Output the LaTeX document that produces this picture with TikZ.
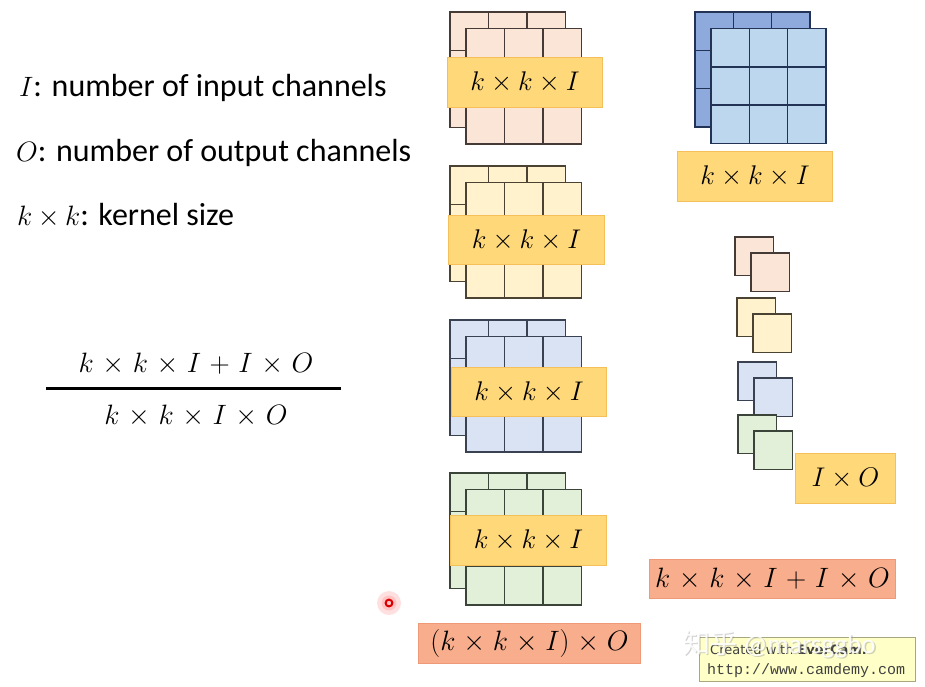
\RequirePackage{fix-cm}
\documentclass[tikz,border=0pt]{standalone}
\usepackage{fontspec}
\setmainfont{Carlito}
\newfontfamily\cjkfont{Noto Sans CJK SC}
\newfontfamily\dvs{DejaVu Sans}
\newfontfamily\lmono{Liberation Mono}
\definecolor{pinkF}{HTML}{FBE5D6}
\definecolor{yellF}{HTML}{FFF2CC}
\definecolor{blueF}{HTML}{DAE3F3}
\definecolor{greenF}{HTML}{E2F0D9}
\definecolor{pinkD}{HTML}{463A36}
\definecolor{yellD}{HTML}{4A4232}
\definecolor{blueD}{HTML}{3A4150}
\definecolor{greenD}{HTML}{3A4438}
\definecolor{gridD}{HTML}{3C3C3C}
\definecolor{kbBack}{HTML}{8EA9DB}
\definecolor{kbFront}{HTML}{BDD7EE}
\definecolor{kbD}{HTML}{223355}
\definecolor{goldF}{HTML}{FFD87A}
\definecolor{goldD}{HTML}{F5C05A}
\definecolor{salF}{HTML}{F8AD8C}
\definecolor{salD}{HTML}{EE9A78}
\definecolor{camF}{HTML}{FFFFC8}
\definecolor{camD}{HTML}{A8A880}
\newcommand{\kgrid}[5]{% x y w fill draw
  \draw[draw=#5, fill=#4, line width=1.4] (#1,#2) rectangle ++(#3,#3);
  \foreach \i in {1,2}{
    \draw[draw=#5, line width=1.4] (#1+\i*#3/3,#2) -- ++(0,#3);
    \draw[draw=#5, line width=1.4] (#1,#2+\i*#3/3) -- ++(#3,0);
  }}
\newcommand{\kstack}[4]{% x y fill draw
  \kgrid{#1}{#2}{115.5}{#3}{#4}
  \kgrid{#1+16}{#2+16.5}{115.5}{#3}{#4}}
\newcommand{\sq}[4]{% x y fill draw
  \draw[draw=#4, fill=#3, line width=1.3] (#1,#2) rectangle ++(38.5,38.5);
  \draw[draw=#4, fill=#3, line width=1.3] (#1+16,#2+16) rectangle ++(38.5,38.5);}
\newcommand{\mm}[2]{$\medmuskip=#1mu\relax #2$}
\tikzset{
  goldbox/.style={draw=goldD, fill=goldF, line width=1, inner sep=0pt},
  salbox/.style={draw=salD, fill=salF, line width=1, inner sep=0pt},
  legend/.style={anchor=base west, inner sep=0pt, font=\fontsize{32}{36}\selectfont},
  mathlbl/.style={inner sep=0pt, font=\fontsize{27}{32}\selectfont},
  mathbig/.style={inner sep=0pt, font=\fontsize{28}{33}\selectfont}
}
\begin{document}
\begin{tikzpicture}[x=1pt,y=-1pt]
\useasboundingbox[fill=white] (0,0) rectangle (925,686);
% legend
\node[legend] (l1) at (19,96) {{\fontsize{28}{30}\selectfont$I$}: number of input channels};
\node[legend] (l2) at (16,161) {{\fontsize{28}{30}\selectfont$O$}: number of output channels};
\node[legend] (l3) at (17,225) {{\fontsize{28}{30}\selectfont\mm{3.5}{k\times k}}: kernel size};
% fraction
\node[mathbig, anchor=base] (num) at (196,372) {\mm{5.5}{k\times k\times I+I\times O}};
\draw[line width=3] (46,388) -- (341,388);
\node[mathbig, anchor=base] (den) at (196,424) {\mm{5.5}{k\times k\times I\times O}};
% stacks
\kstack{450}{12}{pinkF}{pinkD}
\kstack{450}{166}{yellF}{yellD}
\kstack{450}{320}{blueF}{blueD}
\kstack{450}{473}{greenF}{greenD}
\node[goldbox, minimum width=155, minimum height=50, anchor=north west] (s1) at (447,57) {};
\node[mathlbl] at (s1) {\mm{4}{k\times k\times I}};
\node[goldbox, minimum width=156, minimum height=49, anchor=north west] (s2) at (448,215) {};
\node[mathlbl] at (s2) {\mm{4}{k\times k\times I}};
\node[goldbox, minimum width=155, minimum height=49, anchor=north west] (s3) at (451,367) {};
\node[mathlbl] at (s3) {\mm{4}{k\times k\times I}};
\node[goldbox, minimum width=156, minimum height=50, anchor=north west] (s4) at (450,515) {};
\node[mathlbl] at (s4) {\mm{4}{k\times k\times I}};
% blue kernel
\kgrid{695}{12}{115}{kbBack}{kbD}
\kgrid{711}{28.5}{115}{kbFront}{kbD}
\node[goldbox, minimum width=155, minimum height=50, anchor=north west] (kb) at (677,151) {};
\node[mathlbl] at (kb) {\mm{4}{k\times k\times I}};
% small squares
\sq{735}{237}{pinkF}{pinkD}
\sq{737}{298}{yellF}{yellD}
\sq{738}{362}{blueF}{blueD}
\sq{738}{415}{greenF}{greenD}
\node[goldbox, minimum width=100, minimum height=50, anchor=north west] (io) at (795,453) {};
\node[mathlbl] at (io) {\mm{4}{I\times O}};
% totals
\node[salbox, minimum width=246, minimum height=39, anchor=north west] (t1) at (649,559) {};
\node[mathbig] at (t1) {\mm{5.5}{k\times k\times I+I\times O}};
\node[salbox, minimum width=222, minimum height=40, anchor=north west] (t2) at (418,623) {};
\node[mathbig] at (t2) {\mm{5}{(k\times k\times I)\times O}};
% red pointer
\fill[red!60, opacity=0.2] (389,603) circle (12);
\fill[red!50, opacity=0.3] (389,603) circle (7.5);
\draw[red!85!black, line width=2] (389,603) circle (3.4);
% camdemy
\node[draw=camD, fill=camF, line width=1, minimum width=216, minimum height=44, anchor=north west] (cam) at (699,637) {};
\node[anchor=base west, inner sep=0pt, text=black!75, font=\dvs\fontsize{13}{15}\selectfont] (cam1) at (710,654) {Created with \textbf{EverCam.}};
\node[anchor=base west, inner sep=0pt, text=black!75, font=\lmono\fontsize{15}{17}\selectfont] (cam2) at (707,674) {http://www.camdemy.com};
% watermark
\node[anchor=base west, inner sep=0pt, text=gray, opacity=0.35, font=\fontsize{27}{30}\selectfont] (wm0) at (684.5,654.5) {{\cjkfont 知乎} @marsggbo};
\node[anchor=base west, inner sep=0pt, text=white, opacity=0.9, font=\fontsize{27}{30}\selectfont] (wm) at (683,653) {{\cjkfont 知乎} @marsggbo};
\end{tikzpicture}
\end{document}
